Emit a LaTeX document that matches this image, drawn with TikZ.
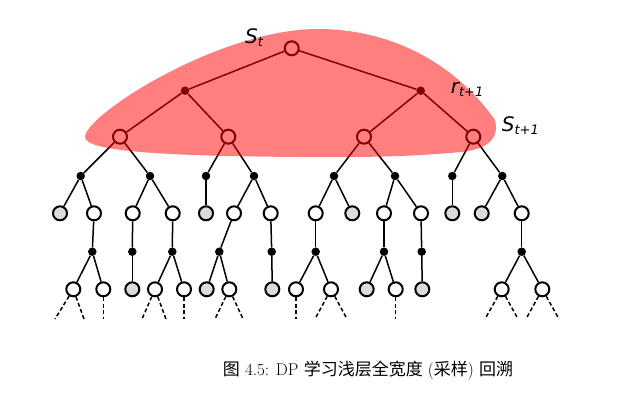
\documentclass[tikz,border=0pt]{standalone}
\usepackage{fontspec}
\newfontfamily\cjk{Noto Sans CJK SC}
\newfontfamily\dv{DejaVu Sans}
\begin{document}
\begin{tikzpicture}[x=1pt,y=-1pt,
  st/.style={circle,draw=black,line width=2pt,minimum size=14pt,inner sep=0pt,fill=white},
  gst/.style={st,fill=black!14},
  act/.style={circle,fill=black,minimum size=8.5pt,inner sep=0pt},
  edge/.style={line width=1.5pt},
  dedge/.style={line width=1.5pt,dash pattern=on 4pt off 2.5pt},
  lab/.style={anchor=base west,inner sep=0pt,font=\dv\itshape\fontsize{20}{20}\selectfont}]
\useasboundingbox (0,0) rectangle (618,402);
% level 0
\node[st] (s0) at (291.7,48.3) {};
% level 1
\node[act] (a1) at (185,90.7) {};
\node[act] (a2) at (420.7,90.7) {};
% level 2
\node[st] (s1) at (120,136.7) {};
\node[st] (s2) at (228.3,136.7) {};
\node[st] (s3) at (364,136.7) {};
\node[st] (s4) at (473.3,136.7) {};
% level 3
\foreach \n/\x in {b1/80.7,b2/150,b3/206,b4/254,b5/334,b6/395,b7/452.3,b8/502.3}
  \node[act] (\n) at (\x,176) {};
% level 4
\foreach \n/\x in {u2/94,u3/132.7,u4/172.7,u6/234,u7/270.7,u8/315.7,u10/384,u11/421,u14/521.7}
  \node[st] (\n) at (\x,213.3) {};
\foreach \n/\x in {u1/60,u5/206,u9/352.3,u12/452.3,u13/481.7}
  \node[gst] (\n) at (\x,213.3) {};
% level 5
\foreach \n/\x in {c1/92.3,c2/132.3,c3/172.3,c4/219.3,c5/271.7,c6/315.7,c7/384,c8/421.7,c9/521.7}
  \node[act] (\n) at (\x,251.7) {};
% level 6
\foreach \n/\x in {v1/73.3,v2/103.3,v4/155,v5/184,v7/229.3,v9/296,v10/331,v12/395.7,v14/501.7,v15/542.3}
  \node[st] (\n) at (\x,289.3) {};
\foreach \n/\x in {v3/132.3,v6/206.7,v8/272.3,v11/366.7,v13/422.3}
  \node[gst] (\n) at (\x,289.3) {};
% dashed free ends
\foreach \n/\x in {e1/55,e2/84,e3/103.3,e4/142,e5/166,e6/184,e7/215,e8/243,e9/296,e10/315,e11/347,e12/395.7,e13/485,e14/518,e15/526,e16/559}
  \coordinate (\n) at (\x,319);
% edges
\foreach \p/\c in {s0/a1,s0/a2,a1/s1,a1/s2,a2/s3,a2/s4,
  s1/b1,s1/b2,s2/b3,s2/b4,s3/b5,s3/b6,s4/b7,s4/b8,
  b1/u1,b1/u2,b2/u3,b2/u4,b3/u5,b4/u6,b4/u7,b5/u8,b5/u9,b6/u10,b6/u11,b7/u12,b8/u13,b8/u14,
  u2/c1,u3/c2,u4/c3,u6/c4,u7/c5,u8/c6,u10/c7,u11/c8,u14/c9,
  c1/v1,c1/v2,c2/v3,c3/v4,c3/v5,c4/v6,c4/v7,c5/v8,c6/v9,c6/v10,c7/v11,c7/v12,c8/v13,c9/v14,c9/v15}
  \draw[edge] (\p) -- (\c);
\foreach \p/\c in {v1/e1,v1/e2,v2/e3,v4/e4,v4/e5,v5/e6,v7/e7,v7/e8,v9/e9,v10/e10,v10/e11,v12/e12,v14/e13,v14/e14,v15/e15,v15/e16}
  \draw[dedge] (\p) -- (\c);
% highlighted region
\fill[red,opacity=0.5] (85,137) .. controls (85,115) and (220,28) .. (320,29)
  .. controls (400,30) and (460,70) .. (495,120)
  .. controls (500,140) and (485,150) .. (460,152)
  .. controls (400,158) and (340,157) .. (300,157)
  .. controls (170,156) and (85,152) .. (85,137) -- cycle;
% labels
\node[lab] (lst) at (245,43.3) {S\raisebox{-3pt}{\fontsize{13}{13}\selectfont t}};
\node[lab] (lrt) at (450.7,93.3) {r\raisebox{-3pt}{\fontsize{13}{13}\selectfont t+1}};
\node[lab] (lst1) at (501.7,131.7) {S\raisebox{-3pt}{\fontsize{13}{13}\selectfont t+1}};
% caption
\node[font=\fontsize{17}{17}\selectfont] (cap) at (368,370)
  {{\cjk 图} 4.5: DP {\cjk 学习浅层全宽度} ({\cjk 采样}) {\cjk 回溯}};
\end{tikzpicture}
\end{document}
